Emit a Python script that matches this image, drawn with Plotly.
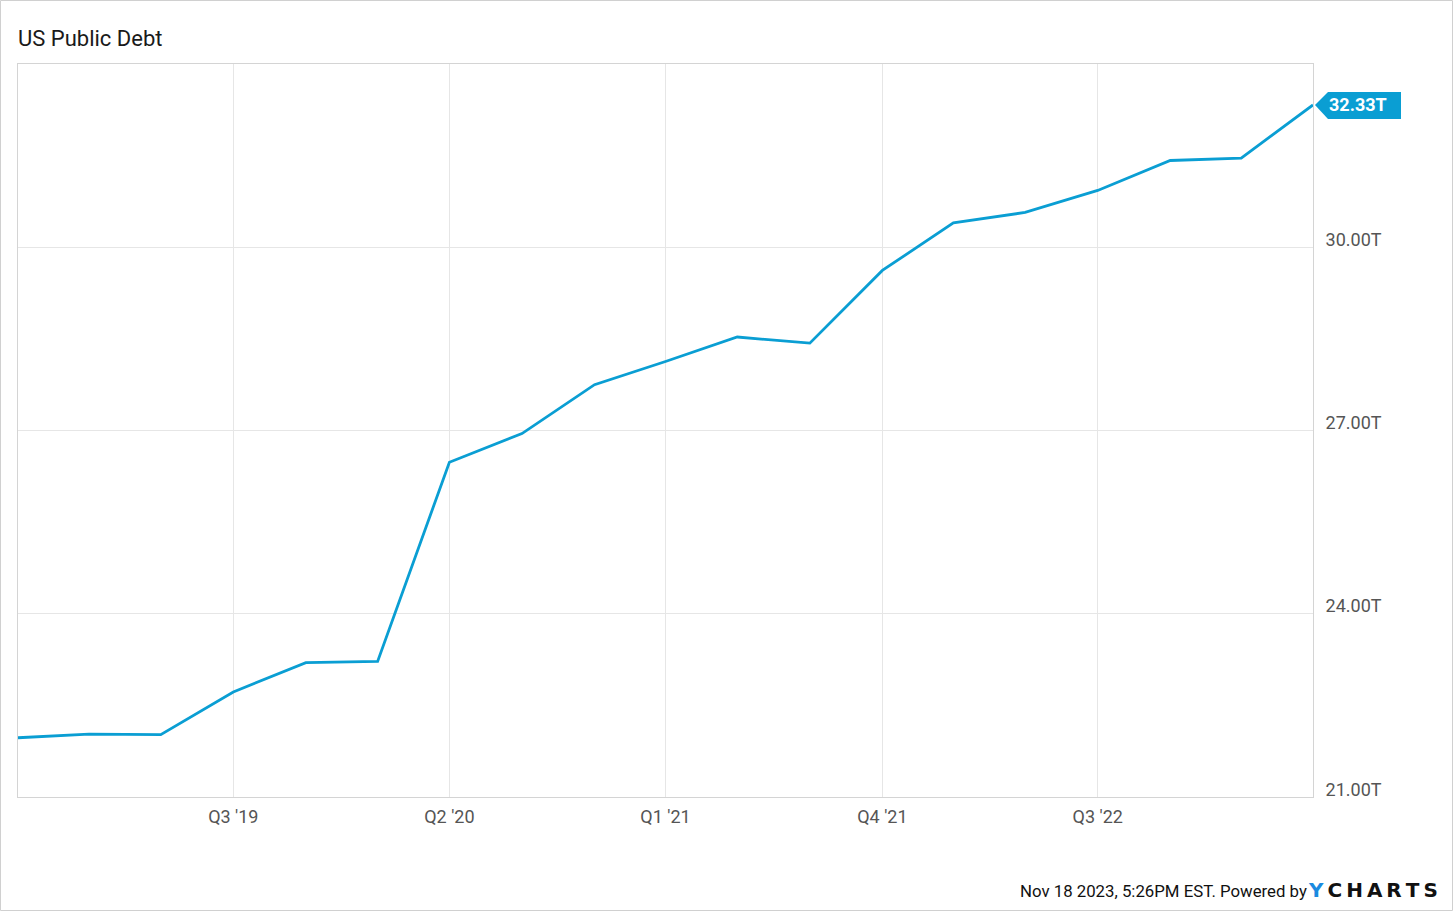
import plotly.graph_objects as go

dates = ["2018-12-31", "2019-03-31", "2019-06-30", "2019-09-30", "2019-12-31",
         "2020-03-31", "2020-06-30", "2020-09-30", "2020-12-31", "2021-03-31",
         "2021-06-30", "2021-09-30", "2021-12-31", "2022-03-31", "2022-06-30",
         "2022-09-30", "2022-12-31", "2023-03-31", "2023-06-30"]
debt = [21.97, 22.03, 22.02, 22.72, 23.20, 23.22, 26.48, 26.95, 27.75, 28.13,
        28.53, 28.43, 29.62, 30.40, 30.57, 30.93, 31.42, 31.46, 32.33]

x_tick_vals = ["2019-09-30", "2020-06-30", "2021-03-31", "2021-12-31", "2022-09-30"]
x_tick_text = ["Q3 '19", "Q2 '20", "Q1 '21", "Q4 '21", "Q3 '22"]
y_tick_vals = [21, 24, 27, 30]
y_tick_text = ["21.00T", "24.00T", "27.00T", "30.00T"]
y_range = [21, 33]

LINE = "#0a9ed3"
W, H = 1456, 912
L, R, T, B = 18, 143, 64, 115
pw, ph = W - L - R, H - T - B

def px_to_paper(px, py):
    return (px - L) / pw, (H - B - py) / ph

fig = go.Figure()
fig.add_trace(go.Scatter(x=dates, y=debt, mode="lines",
                         line=dict(color=LINE, width=2.8), hoverinfo="x+y"))

fig.update_layout(
    width=W, height=H,
    margin=dict(l=L, r=R, t=T, b=B),
    paper_bgcolor="white", plot_bgcolor="white",
    showlegend=False,
    font=dict(family="Roboto", color="#555555"),
    title=dict(text="US Public Debt", x=18 / W, xanchor="left", y=1 - 38 / H, yanchor="middle",
               font=dict(family="Roboto", size=22, color="#1a1a1a")),
    xaxis=dict(range=[dates[0], dates[-1]], tickvals=x_tick_vals, ticktext=x_tick_text,
               showgrid=True, gridcolor="#e6e6e6", gridwidth=1,
               showline=True, linecolor="#d4d4d4", linewidth=1, mirror=True,
               ticks="", ticklabelstandoff=3,
               tickfont=dict(size=18, color="#555555"), zeroline=False),
    yaxis=dict(range=y_range, side="right", tickvals=y_tick_vals, ticktext=y_tick_text,
               ticklabelposition="outside top", ticklabelstandoff=8, ticklabelshift=5,
               showgrid=True, gridcolor="#e6e6e6", gridwidth=1,
               showline=True, linecolor="#d4d4d4", linewidth=1, mirror=True,
               ticks="", tickfont=dict(size=18, color="#555555"), zeroline=False),
)

# last value tag (anchored at the last data point, in paper space so it is not clipped)
last_y = debt[-1]
tag_x = 1.0
tag_y = (last_y - y_range[0]) / (y_range[1] - y_range[0])
fig.add_shape(type="path", xref="paper", yref="paper", xsizemode="pixel", ysizemode="pixel",
              xanchor=tag_x, yanchor=tag_y,
              path="M 2,0 L 15,13 L 88,13 L 88,-14 L 15,-14 Z",
              fillcolor=LINE, line=dict(width=0), layer="above")
fig.add_annotation(x=tag_x, y=tag_y, xref="paper", yref="paper", text=f"<b>{last_y:.2f}T</b>",
                   showarrow=False, xanchor="center", yanchor="middle", xshift=45, yshift=0,
                   font=dict(family="Roboto", size=18, color="white"))

# outer border
x0, y0 = px_to_paper(0.5, 0.5)
x1, y1 = px_to_paper(1452.5, 910.5)
fig.add_shape(type="rect", xref="paper", yref="paper", x0=x0, y0=y1, x1=x1, y1=y0,
              line=dict(color="#d0d0d0", width=1), fillcolor="rgba(0,0,0,0)", layer="below")

# footer
fx, fy = px_to_paper(1309, 891)
fig.add_annotation(xref="paper", yref="paper", x=fx, y=fy, xanchor="right", yanchor="middle",
                   text="Nov 18 2023, 5:26PM EST. Powered by", showarrow=False,
                   font=dict(family="Roboto", size=16.8, color="#111111"))
gx, gy = px_to_paper(1306, 890)
fig.add_annotation(xref="paper", yref="paper", x=gx, y=gy, xanchor="left", yanchor="middle",
                   text="<b><span style='color:#1a8ae0'>Y</span>\u2009C\u2009H\u2009A\u2009R\u2009T\u2009S</b>",
                   showarrow=False,
                   font=dict(family="DejaVu Sans", size=20, color="#111111"))

fig.write_html("out.html", config={"displayModeBar": False},
               post_script="document.body.style.margin='0';document.body.style.padding='0';"
                           "document.documentElement.style.overflow='hidden';")
